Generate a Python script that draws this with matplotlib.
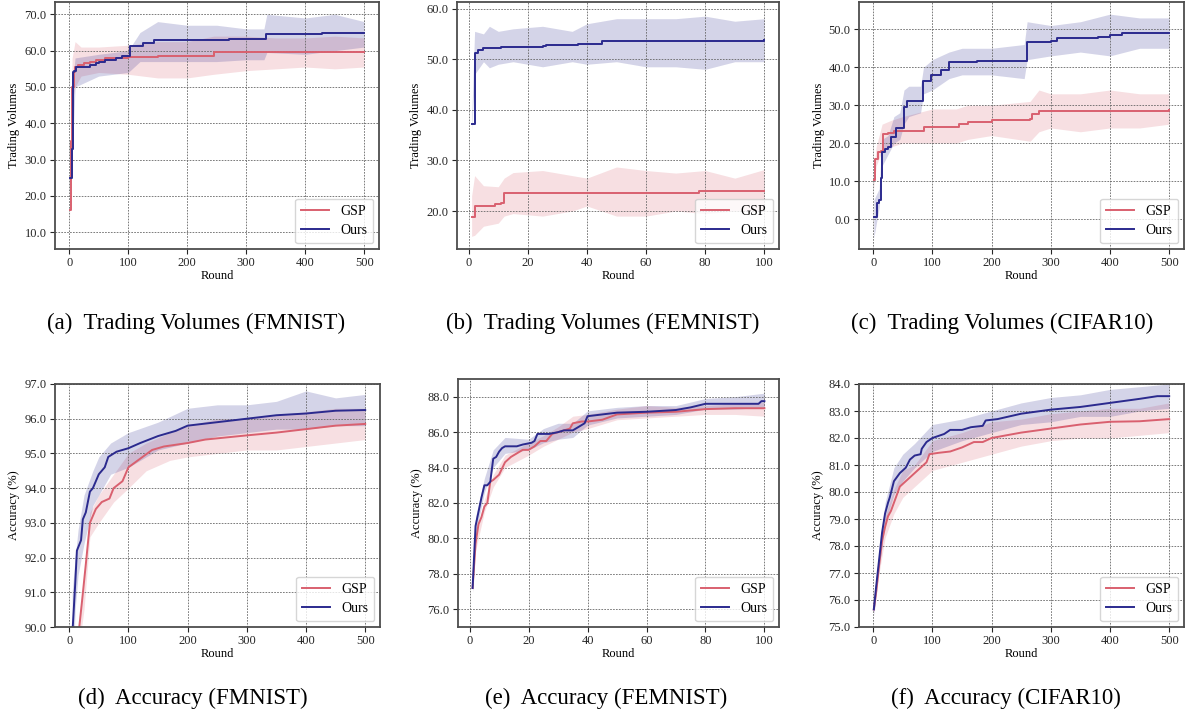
# === IMPORTS ===
import matplotlib
matplotlib.use("Agg")
import matplotlib.pyplot as plt

# === PARAMETERS ===
W, H = 1185, 719
color_gsp = "#d9606f"
color_ours = "#2b2a8e"
band_alpha = 0.2
plt.rcParams["font.family"] = ["Liberation Serif", "DejaVu Serif"]

# === DATA ===
# (a) Trading volumes, FMNIST
a_gsp_x = [1, 3, 5, 8, 10, 15, 25, 35, 45, 60, 80, 100, 150, 245, 500]
a_gsp_y = [16, 35, 50, 54, 55.5, 56, 56.5, 57, 57.5, 58, 58.1, 58.2, 58.5, 59.6, 59.7]
a_gsp_bx = [1, 5, 10, 20, 50, 100, 150, 200, 245, 300, 350, 400, 450, 500]
a_gsp_lo = [14, 46, 50, 53, 54, 53.5, 52.5, 52.5, 53.5, 54.5, 55, 55.5, 55, 55.5]
a_gsp_hi = [18, 58, 62.5, 61, 61, 61.5, 62.5, 62.5, 64, 64, 63.5, 63.5, 64, 63.5]
a_ours_x = [1, 4, 6, 8, 12, 30, 35, 45, 50, 60, 80, 90, 103, 125, 143, 270, 300, 333, 428, 500]
a_ours_y = [25, 33, 54, 54.5, 55.5, 55.6, 56, 56.5, 57, 57.5, 58, 58.5, 61.2, 62.2, 63.0, 63.2, 63.3, 64.7, 65, 65]
a_ours_bx = [1, 5, 10, 50, 100, 120, 150, 200, 250, 300, 330, 335, 400, 450, 500]
a_ours_lo = [23, 30, 50, 53, 54, 57, 57, 57, 57, 57.5, 57.5, 59.5, 59, 60, 61]
a_ours_hi = [27, 50, 58, 59, 60, 65, 68, 67, 67, 66, 66, 70, 69, 70, 68]

# (b) Trading volumes, FEMNIST
b_gsp_x = [1, 2, 8, 9, 11, 12, 25, 78, 100]
b_gsp_y = [18.9, 21, 21, 21.4, 21.6, 23.5, 23.6, 24.0, 24.0]
b_gsp_bx = [1, 2, 5, 10, 12, 15, 25, 35, 40, 50, 60, 70, 80, 90, 100]
b_gsp_lo = [15, 15.2, 17, 17.6, 19, 19.5, 19, 20, 21, 19, 19, 20, 19.5, 20, 20]
b_gsp_hi = [23, 27, 25, 24.8, 26.5, 27.6, 28, 27, 26.5, 28.7, 28, 27.5, 28, 26.5, 28.2]
b_ours_x = [1, 2, 3, 5, 10, 11, 25, 26, 37, 44, 45, 78, 99, 100]
b_ours_y = [37.2, 51.2, 51.8, 52.2, 52.3, 52.5, 52.6, 52.8, 53.0, 53.0, 53.5, 53.6, 53.6, 53.8]
b_ours_bx = [1, 2, 5, 7, 10, 15, 25, 35, 40, 50, 60, 70, 80, 90, 100]
b_ours_lo = [36, 47, 49.5, 48.3, 49, 49.5, 48.5, 49.5, 49, 49.5, 48.5, 48.5, 48, 49.5, 49.5]
b_ours_hi = [38, 55.5, 55, 56.5, 55.5, 56, 56.5, 55.5, 57, 58, 58, 58, 58.5, 57.5, 58]

# (c) Trading volumes, CIFAR10
c_gsp_x = [1, 3, 8, 13, 16, 25, 35, 80, 85, 140, 145, 160, 200, 265, 268, 280, 400, 500]
c_gsp_y = [10.3, 15.8, 17.6, 18, 22.3, 22.8, 23.2, 23.3, 24.2, 24.3, 25, 25.7, 26, 26.3, 27.8, 28.5, 28.6, 28.7]
c_gsp_bx = [1, 5, 15, 30, 50, 100, 140, 160, 200, 265, 280, 300, 350, 400, 450, 500]
c_gsp_lo = [8, 14, 18, 19, 20, 20, 20, 21, 22, 20.5, 23, 24, 23, 24, 24, 25]
c_gsp_hi = [13, 19, 25, 26, 27, 29, 29, 30, 30, 31, 34, 33, 33, 34, 33, 33]
c_ours_x = [1, 6, 9, 13, 15, 20, 25, 30, 38, 52, 57, 84, 97, 115, 128, 175, 260, 300, 310, 380, 400, 420, 500]
c_ours_y = [0.6, 4.1, 5, 10.8, 17.7, 18.5, 19, 21.5, 24, 29.5, 31.2, 36.5, 37.9, 39.2, 41.4, 41.7, 46.6, 47, 47.8, 48, 48.6, 48.9, 49]
c_ours_bx = [1, 10, 15, 25, 35, 45, 52, 60, 80, 85, 100, 128, 150, 200, 255, 260, 300, 350, 400, 450, 500]
c_ours_lo = [-5, 3, 14, 17, 20, 21, 25, 27, 28, 33, 34, 37, 38, 38, 37, 42, 43, 44, 43, 45, 45]
c_ours_hi = [5, 8, 21, 22, 27, 28, 34, 35, 35, 40, 42, 44, 45, 45, 46, 52, 51, 52, 54, 53, 53]

# (d) Accuracy, FMNIST
d_gsp_x = [17, 22, 28, 35, 45, 55, 68, 75, 90, 100, 120, 140, 160, 200, 230, 300, 350, 400, 450, 500]
d_gsp_y = [90, 90.8, 91.8, 93.0, 93.4, 93.6, 93.7, 94.0, 94.2, 94.6, 94.85, 95.1, 95.2, 95.3, 95.4, 95.52, 95.6, 95.7, 95.8, 95.85]
d_gsp_bx = [17, 25, 35, 50, 75, 100, 130, 170, 200, 250, 300, 350, 400, 450, 500]
d_gsp_lo = [89.5, 90.5, 92.6, 93.0, 93.6, 94.0, 94.5, 94.8, 94.9, 95.0, 95.1, 95.1, 95.2, 95.3, 95.4]
d_gsp_hi = [90.3, 91.5, 93.3, 93.8, 94.4, 95.0, 95.3, 95.6, 95.8, 96.0, 96.0, 96.1, 96.2, 96.3, 96.3]
d_ours_x = [6, 10, 13, 20, 23, 28, 35, 40, 50, 60, 66, 80, 100, 120, 150, 180, 200, 250, 300, 350, 400, 450, 500]
d_ours_y = [90, 91.2, 92.2, 92.5, 93.1, 93.3, 93.9, 94.0, 94.4, 94.6, 94.9, 95.05, 95.15, 95.3, 95.5, 95.65, 95.8, 95.9, 96.0, 96.1, 96.15, 96.23, 96.25]
d_ours_bx = [5, 10, 15, 25, 40, 50, 70, 100, 150, 200, 250, 300, 350, 400, 450, 500]
d_ours_lo = [88, 90.5, 91.5, 92.4, 93.5, 93.8, 94.4, 94.6, 95.1, 95.3, 95.5, 95.6, 95.7, 95.7, 95.8, 95.8]
d_ours_hi = [91, 92, 92.8, 93.8, 94.5, 94.9, 95.3, 95.6, 95.9, 96.3, 96.4, 96.4, 96.5, 96.8, 96.6, 96.7]

# (e) Accuracy, FEMNIST
e_gsp_x = [1, 2, 3, 4, 5, 6, 7, 8, 10, 12, 14, 16, 18, 20, 22, 24, 26, 28, 30, 34, 35, 38, 40, 45, 50, 60, 70, 80, 90, 100]
e_gsp_y = [77.2, 79.7, 80.8, 81.2, 81.8, 82.0, 83.2, 83.3, 83.6, 84.3, 84.6, 84.8, 85.0, 85.0, 85.2, 85.5, 85.5, 85.9, 86.0, 86.2, 86.5, 86.6, 86.6, 86.7, 87.0, 87.1, 87.15, 87.3, 87.35, 87.35]
e_gsp_bx = [1, 2, 5, 8, 12, 20, 25, 30, 35, 40, 50, 60, 70, 80, 90, 100]
e_gsp_lo = [77.0, 79.3, 81.5, 82.9, 84.0, 84.7, 85.2, 85.6, 86.0, 86.2, 86.7, 86.8, 86.9, 87.0, 87.0, 86.9]
e_gsp_hi = [77.4, 80.1, 82.2, 83.6, 84.7, 85.4, 85.8, 86.3, 86.9, 87.0, 87.3, 87.5, 87.4, 87.5, 87.6, 87.7]
e_ours_x = [1, 2, 3, 4, 5, 6, 7, 8, 9, 10, 11, 12, 16, 18, 21, 22, 23, 27, 30, 32, 35, 37, 39, 40, 45, 50, 60, 70, 75, 80, 98, 99, 100]
e_ours_y = [77.2, 80.7, 81.5, 82.3, 83.0, 83.0, 83.2, 84.5, 84.6, 84.9, 85.1, 85.2, 85.2, 85.3, 85.4, 85.5, 85.9, 85.9, 86.0, 86.1, 86.1, 86.3, 86.5, 86.9, 87.0, 87.1, 87.15, 87.25, 87.4, 87.6, 87.6, 87.75, 87.75]
e_ours_bx = [1, 2, 5, 8, 12, 20, 25, 30, 35, 40, 50, 60, 70, 80, 90, 100]
e_ours_lo = [76.9, 80.2, 82.6, 84.0, 84.8, 85.0, 85.4, 85.6, 85.7, 86.4, 86.8, 86.9, 87.0, 87.3, 87.3, 87.4]
e_ours_hi = [77.5, 81.2, 83.4, 85.0, 85.7, 85.6, 86.2, 86.5, 86.5, 87.2, 87.4, 87.5, 87.5, 87.9, 88.0, 88.2]

# (f) Accuracy, CIFAR10
f_gsp_x = [1, 5, 10, 15, 20, 25, 30, 35, 45, 55, 65, 80, 90, 95, 110, 130, 150, 170, 185, 200, 250, 300, 350, 400, 450, 500]
f_gsp_y = [75.65, 76.3, 77.3, 78.2, 78.7, 79.1, 79.3, 79.6, 80.2, 80.4, 80.6, 80.9, 81.1, 81.4, 81.45, 81.5, 81.65, 81.85, 81.85, 82.0, 82.2, 82.35, 82.5, 82.6, 82.62, 82.7]
f_gsp_bx = [1, 10, 20, 35, 50, 70, 100, 150, 200, 250, 300, 350, 400, 450, 500]
f_gsp_lo = [75.5, 77.0, 78.3, 79.2, 79.8, 80.2, 80.8, 81.1, 81.4, 81.7, 81.9, 82.0, 82.0, 82.1, 82.2]
f_gsp_hi = [75.8, 77.6, 79.1, 80.1, 80.8, 81.0, 81.9, 82.2, 82.6, 82.7, 82.9, 83.0, 83.1, 83.1, 83.3]
f_ours_x = [1, 5, 10, 15, 20, 25, 28, 35, 45, 55, 62, 70, 80, 82, 90, 100, 120, 130, 150, 165, 185, 190, 210, 250, 300, 350, 400, 450, 480, 500]
f_ours_y = [75.65, 76.5, 77.5, 78.5, 79.2, 79.6, 79.8, 80.4, 80.7, 80.9, 81.2, 81.35, 81.4, 81.6, 81.85, 82.0, 82.15, 82.3, 82.3, 82.4, 82.45, 82.65, 82.7, 82.9, 83.05, 83.15, 83.3, 83.45, 83.55, 83.55]
f_ours_bx = [1, 10, 20, 35, 50, 70, 100, 150, 200, 250, 300, 350, 400, 450, 500]
f_ours_lo = [75.4, 77.2, 78.8, 79.9, 80.4, 80.9, 81.5, 81.9, 82.2, 82.5, 82.6, 82.8, 82.8, 83.0, 83.1]
f_ours_hi = [76.0, 77.8, 79.6, 80.9, 81.4, 81.8, 82.5, 82.7, 83.0, 83.3, 83.5, 83.6, 83.8, 83.9, 84.0]

panels = [
    dict(box=(55, 2, 379, 249), gsp=(a_gsp_x, a_gsp_y, a_gsp_bx, a_gsp_lo, a_gsp_hi),
         ours=(a_ours_x, a_ours_y, a_ours_bx, a_ours_lo, a_ours_hi), step=True,
         ylabel="Trading Volumes", ylim=(5.4, 73.4), yticks=range(10, 71, 10),
         xlim=(-24, 525), xticks=range(0, 501, 100),
         caption="(a)  Trading Volumes (FMNIST)", cap=(196, 323)),
    dict(box=(457, 2, 779, 249), gsp=(b_gsp_x, b_gsp_y, b_gsp_bx, b_gsp_lo, b_gsp_hi),
         ours=(b_ours_x, b_ours_y, b_ours_bx, b_ours_lo, b_ours_hi), step=True,
         ylabel="Trading Volumes", ylim=(12.5, 61.3), yticks=range(20, 61, 10),
         xlim=(-3.95, 104.95), xticks=range(0, 101, 20),
         caption="(b)  Trading Volumes (FEMNIST)", cap=(603, 323)),
    dict(box=(859, 2, 1184, 249), gsp=(c_gsp_x, c_gsp_y, c_gsp_bx, c_gsp_lo, c_gsp_hi),
         ours=(c_ours_x, c_ours_y, c_ours_bx, c_ours_lo, c_ours_hi), step=True,
         ylabel="Trading Volumes", ylim=(-7.9, 57.2), yticks=range(0, 51, 10),
         xlim=(-24, 525), xticks=range(0, 501, 100),
         caption="(c)  Trading Volumes (CIFAR10)", cap=(1002, 323)),
    dict(box=(55, 384, 380, 627), gsp=(d_gsp_x, d_gsp_y, d_gsp_bx, d_gsp_lo, d_gsp_hi),
         ours=(d_ours_x, d_ours_y, d_ours_bx, d_ours_lo, d_ours_hi), step=False,
         ylabel="Accuracy (%)", ylim=(90, 97), yticks=range(90, 98),
         xlim=(-24, 525), xticks=range(0, 501, 100),
         caption="(d)  Accuracy (FMNIST)", cap=(193, 698)),
    dict(box=(458, 379, 779, 627), gsp=(e_gsp_x, e_gsp_y, e_gsp_bx, e_gsp_lo, e_gsp_hi),
         ours=(e_ours_x, e_ours_y, e_ours_bx, e_ours_lo, e_ours_hi), step=False,
         ylabel="Accuracy (%)", ylim=(75, 89), yticks=range(76, 89, 2),
         xlim=(-3.95, 104.95), xticks=range(0, 101, 20),
         caption="(e)  Accuracy (FEMNIST)", cap=(606, 698)),
    dict(box=(859, 384, 1184, 627), gsp=(f_gsp_x, f_gsp_y, f_gsp_bx, f_gsp_lo, f_gsp_hi),
         ours=(f_ours_x, f_ours_y, f_ours_bx, f_ours_lo, f_ours_hi), step=False,
         ylabel="Accuracy (%)", ylim=(75, 84), yticks=range(75, 85),
         xlim=(-24, 525), xticks=range(0, 501, 100),
         caption="(f)  Accuracy (CIFAR10)", cap=(1006, 698)),
]

# === FIGURE ===
fig = plt.figure(figsize=(W / 100, H / 100), dpi=100)

for p in panels:
    l, t, r, b = p["box"]
    ax = fig.add_axes([l / W, 1 - b / H, (r - l) / W, (b - t) / H])
    ds = "steps-post" if p["step"] else "default"
    for (x, y, bx, lo, hi), col, lab in [(p["gsp"], color_gsp, "GSP"), (p["ours"], color_ours, "Ours")]:
        ax.fill_between(bx, lo, hi, color=col, alpha=band_alpha, lw=0)
        ax.plot(x, y, color=col, lw=1.4, drawstyle=ds, label=lab)
    ax.set_xlim(*p["xlim"])
    ax.set_ylim(*p["ylim"])
    ax.set_xticks(list(p["xticks"]))
    ax.set_yticks(list(p["yticks"]))
    ax.set_yticklabels([f"{v:.1f}" for v in p["yticks"]])
    ax.tick_params(labelsize=9, length=3.5, width=0.8, colors="0.15", pad=2.5)
    ax.set_xlabel("Round", fontsize=9, labelpad=0.5)
    ax.set_ylabel(p["ylabel"], fontsize=9, labelpad=3)
    ax.grid(True, linestyle=(0, (2, 1.5)), color="0.4", lw=0.6)
    for s in ax.spines.values():
        s.set_color("0.3")
        s.set_linewidth(1.3)
    ax.legend(loc="lower right", fontsize=10, handlelength=2.0, borderpad=0.45,
              labelspacing=0.45, borderaxespad=0.4)
    fig.text(p["cap"][0] / W, 1 - p["cap"][1] / H, p["caption"], fontsize=16.5,
             ha="center", va="center")

# === RENDER ===
fig.savefig("out.png", dpi=100)
